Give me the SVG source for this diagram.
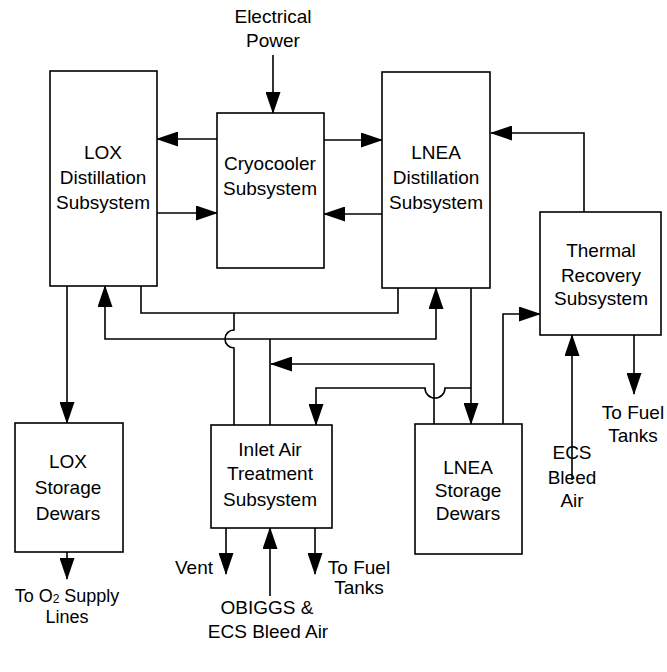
<svg xmlns="http://www.w3.org/2000/svg" width="667" height="672" viewBox="0 0 667 672">
<defs>
<marker id="ah" markerUnits="userSpaceOnUse" markerWidth="22" markerHeight="15" refX="21" refY="7.5" orient="auto">
<path d="M0,0 L22,7.5 L0,15 z" fill="#000"/>
</marker>
<style>
.box{fill:#fff;stroke:#000;stroke-width:1.6}
.ln{fill:none;stroke:#000;stroke-width:1.6}
.ar{fill:none;stroke:#000;stroke-width:1.6;marker-end:url(#ah)}
text{font-family:"Liberation Sans",Arial,sans-serif;font-size:19px;fill:#000}
.c{text-anchor:middle}
.s{font-size:18px}
</style>
</defs>
<rect width="667" height="672" fill="#fff"/>
<g id="connectors">
<path class="ar" d="M273,55 V113"/>
<path class="ar" d="M217,139 H157"/>
<path class="ar" d="M157,213 H217"/>
<path class="ar" d="M324,140 H382"/>
<path class="ar" d="M382,214 H324"/>
<path class="ar" d="M584,212 V133 H491"/>
<path class="ar" d="M67,286 V423"/>
<path class="ar" d="M67,552 V579"/>
<path class="ln" d="M141,286 V313 H398 V288"/>
<path class="ln" d="M234,313 V330 A9,9 0 0 0 234,348 V425"/>
<path class="ln" d="M270,425 V339"/>
<path class="ar" d="M270,339 H105 V286"/>
<path class="ar" d="M270,339 H436 V288"/>
<path class="ar" d="M434,424 V364 H271"/>
<path class="ar" d="M471,288 V424"/>
<path class="ar" d="M471,388 H445 A10,10 0 0 1 425,388 H316 V425"/>
<path class="ar" d="M503,424 V314 H540"/>
<path class="ar" d="M572,480 V335"/>
<path class="ar" d="M634,335 V394"/>
<path class="ar" d="M226,528 V574"/>
<path class="ar" d="M270,596 V528"/>
<path class="ar" d="M315,528 V574"/>
</g>
<g id="lox-distillation">
<rect class="box" x="50" y="71" width="107" height="215"/>
<text class="c" x="103" y="159">LOX</text>
<text class="c" x="103" y="184">Distillation</text>
<text class="c" x="103" y="209">Subsystem</text>
</g>
<g id="cryocooler">
<rect class="box" x="217" y="113" width="107" height="155"/>
<text class="c" x="270" y="170">Cryocooler</text>
<text class="c" x="270" y="195">Subsystem</text>
</g>
<g id="lnea-distillation">
<rect class="box" x="382" y="72" width="108" height="216"/>
<text class="c" x="436" y="159">LNEA</text>
<text class="c" x="436" y="184">Distillation</text>
<text class="c" x="436" y="209">Subsystem</text>
</g>
<g id="thermal-recovery">
<rect class="box" x="540" y="212" width="121" height="123"/>
<text class="c" x="601" y="257">Thermal</text>
<text class="c" x="601" y="282">Recovery</text>
<text class="c" x="601" y="305">Subsystem</text>
</g>
<g id="lox-storage">
<rect class="box" x="15" y="423" width="108" height="129"/>
<text class="c" x="68" y="468">LOX</text>
<text class="c" x="68" y="494">Storage</text>
<text class="c" x="68" y="520">Dewars</text>
</g>
<g id="inlet-air">
<rect class="box" x="211" y="425" width="121" height="103"/>
<text class="c" x="270" y="456">Inlet Air</text>
<text class="c" x="270" y="480">Treatment</text>
<text class="c" x="270" y="506">Subsystem</text>
</g>
<g id="lnea-storage">
<rect class="box" x="415" y="424" width="107" height="130"/>
<text class="c" x="468" y="474">LNEA</text>
<text class="c" x="468" y="497">Storage</text>
<text class="c" x="468" y="520">Dewars</text>
</g>
<g id="labels">
<text class="c" x="273" y="23">Electrical</text>
<text class="c" x="273" y="47">Power</text>
<text class="c s" x="67" y="602">To O<tspan font-size="12" dy="1">2</tspan><tspan dy="-1"> Supply</tspan></text>
<text class="c s" x="67" y="623">Lines</text>
<text x="213" y="574" text-anchor="end">Vent</text>
<text class="c" x="359" y="574">To Fuel</text>
<text class="c" x="359" y="594">Tanks</text>
<text class="c" x="267" y="614">OBIGGS &amp;</text>
<text class="c" x="268" y="638">ECS Bleed Air</text>
<text class="c" x="633" y="419">To Fuel</text>
<text class="c" x="633" y="442">Tanks</text>
<text class="c" x="572" y="459">ECS</text>
<text class="c" x="572" y="484">Bleed</text>
<text class="c" x="572" y="507">Air</text>
</g>
</svg>
